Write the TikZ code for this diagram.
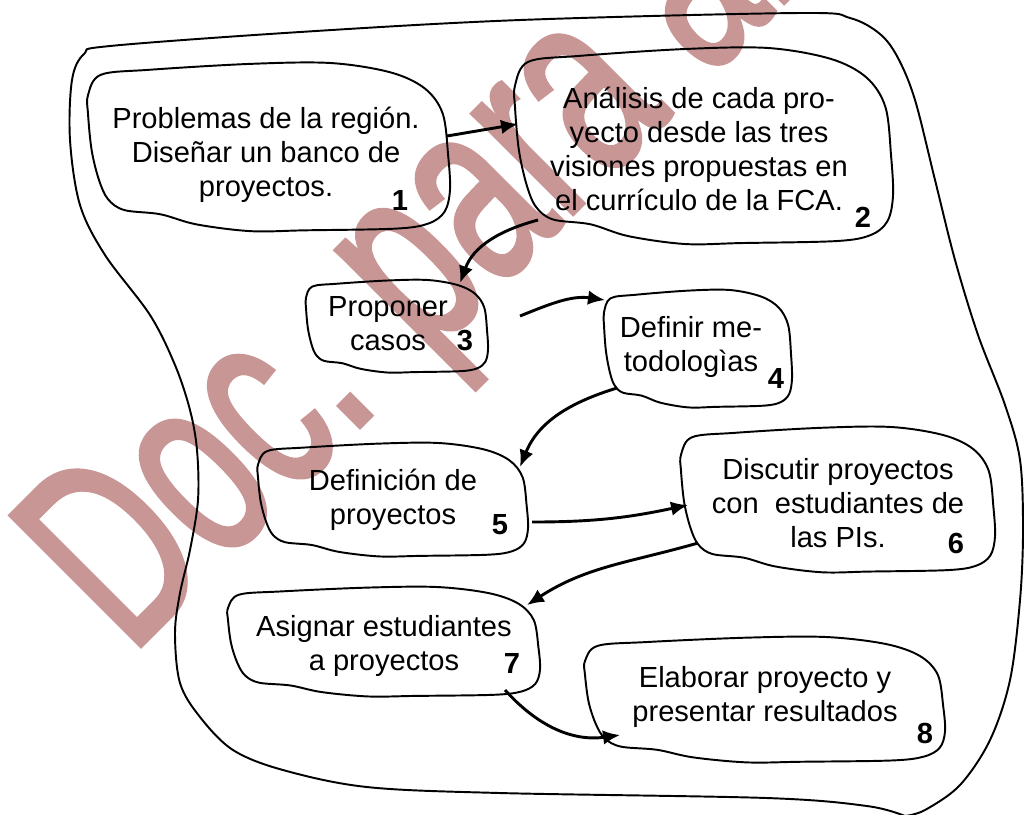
\documentclass[tikz,border=0pt]{standalone}
\usepackage{fontspec}
\setmainfont{Liberation Sans}
\newfontfamily\wmfont{Liberation Sans}[FakeBold=2]
\usetikzlibrary{arrows.meta}
\definecolor{wmark}{RGB}{201,150,150}

% hand-drawn outline round a text node (offset, width, height in px)
\newcommand\drawblob[4][0,0]{%
  \draw[blobline,shift={(#2.center)},shift={(#1)},xscale=#3/2,yscale=#4/2]
    plot[smooth cycle,tension=0.55] coordinates {(-1.00,-0.62) (-0.93,-0.86) (-0.66,-0.92) (-0.10,-0.99) (0.34,-1.00) (0.67,-0.89) (0.86,-0.70) (0.96,-0.40) (0.99,0.10) (1.00,0.50) (0.97,0.76) (0.88,0.90) (0.70,0.96) (0.20,0.98) (-0.10,0.99) (-0.40,0.91) (-0.60,0.79) (-0.80,0.74) (-0.89,0.61) (-0.94,0.38) (-0.98,0.03) (-1.00,-0.40)};}

\begin{document}
\begin{tikzpicture}[x=0.0145cm,y=-0.0145cm,
    blobline/.style={line width=0.8pt},
    txt/.style={inner sep=0pt,align=center,font=\fontsize{12}{14}\selectfont},
    num/.style={font=\fontsize{12}{14}\selectfont\bfseries,inner sep=0pt},
    conn/.style={-{Latex[length=7pt,width=6pt]},line width=1.2pt},
    wmtext/.style={anchor=base west,rotate=45,xscale=0.65,transform shape,inner sep=0pt,text=wmark,font=\fontsize{110}{110}\wmfont}]
    \useasboundingbox (0,0) rectangle (1033,814);

    %watermark
    \node[wmtext] (wm) at (130,656) {Doc. para al};

    %outer line
    \draw[blobline] plot[smooth,tension=0.55] coordinates {(905,816) (867,806) (767,798) (500,793) (367,787) (283,770) (233,750) (200,717) (180,683) (175,633) (180,593) (190,550) (198,500) (197,450) (190,410) (175,365) (150,315) (105,255) (80,205) (70,140) (72,80) (84,54) (110,46) (300,32) (520,20) (800,13) (850,18) (880,34) (898,58) (915,100) (935,180) (955,260) (978,335) (1005,405) (1020,460) (1023,530) (1020,600) (1010,680) (990,740) (960,785) (925,810) (905,816)};

    %steps
    \node[txt] (n1) at (266,155) {Problemas de la región.\\Diseñar un banco de\\proyectos.};
    \node[txt] (n2) at (699,149) {Análisis de cada pro-\\yecto desde las tres\\visiones propuestas en\\el currículo de la FCA.};
    \node[txt] (n3) at (388,324) {Proponer\\casos};
    \node[txt] (n4) at (691,347) {Definir me-\\todologìas};
    \node[txt] (n5) at (393,500) {Definición de\\proyectos};
    \node[txt] (n6) at (838,503) {Discutir proyectos\\con\ \ estudiantes de\\las PIs.};
    \node[txt] (n7) at (384,646) {Asignar estudiantes\\a proyectos};
    \node[txt] (n8) at (765,697) {Elaborar proyecto y\\presentar resultados};

    \drawblob[3,-7.5]{n1}{362}{169}
    \drawblob[5,-2.5]{n2}{378}{197}
    \drawblob[9,2.5]{n3}{182}{93}
    \drawblob[7,2]{n4}{188}{118}
    \drawblob{n5}{270}{114}
    \drawblob[0,-3]{n6}{314}{146}
    \drawblob[0,-4]{n7}{312}{110}
    \drawblob[0,3]{n8}{360}{126}

    %numbers
    \node[num] (k1) at (400,200) {1};
    \node[num] (k2) at (863,217) {2};
    \node[num] (k3) at (465,340) {3};
    \node[num] (k4) at (776,378) {4};
    \node[num] (k5) at (500,525) {5};
    \node[num] (k6) at (956,543) {6};
    \node[num] (k7) at (512,663) {7};
    \node[num] (k8) at (925,733) {8};

    %arrows
    \draw[conn] ([shift={(181,-19)}]n1.center) -- ([shift={(-181,-25)}]n2.center);
    \draw[conn] ([shift={(-161,71)}]n2.center) to[out=195,in=70] ([shift={(72,-41)}]n3.center);
    \draw[conn] ([shift={(132,-8)}]n3.center) to[out=22,in=172] ([shift={(-86,-47)}]n4.center);
    \draw[conn] ([shift={(-74,41)}]n4.center) to[out=197,in=68] ([shift={(127,-33)}]n5.center);
    \draw[conn] ([shift={(139,22)}]n5.center) to[out=0,in=192] ([shift={(-150,2)}]n6.center);
    \draw[conn] ([shift={(-140,40)}]n6.center) to[out=196,in=33] ([shift={(143,-41)}]n7.center);
    \draw[conn] ([shift={(121,44)}]n7.center) to[out=-48,in=188] ([shift={(-145,38)}]n8.center);
\end{tikzpicture}
\end{document}
